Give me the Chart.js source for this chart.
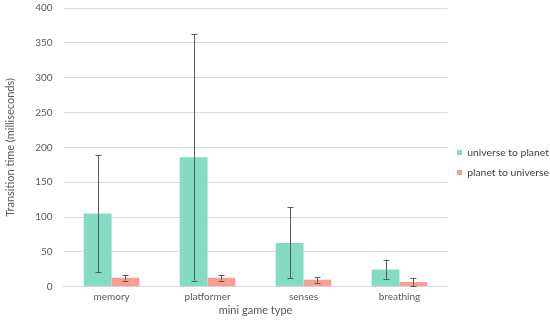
<!DOCTYPE html>
<html>
<head>
<meta charset="utf-8">
<script src="https://cdn.jsdelivr.net/npm/chart.js@4/dist/chart.umd.min.js"></script>
<style>
html,body{margin:0;padding:0;background:#fff;}
#wrap{width:550px;height:323px;position:relative;}
</style>
</head>
<body>
<div id="wrap"><canvas id="c" width="550" height="323"></canvas></div>
<script>
const categories = ["memory", "platformer", "senses", "breathing"];
const universeToPlanet = [105, 186, 63, 25];
const universeToPlanetErr = [84, 177, 51, 14];
const planetToUniverse = [13, 13, 10, 7];
const planetToUniverseErr = [4, 4, 4, 6];
const seriesNames = ["universe to planet", "planet to universe"];
const yTicks = [0, 50, 100, 150, 200, 250, 300, 350, 400];

const errorBars = {
  id: 'errorBars',
  afterDatasetsDraw(chart) {
    const ctx = chart.ctx;
    const ys = chart.scales.y;
    chart.data.datasets.forEach((ds, di) => {
      const meta = chart.getDatasetMeta(di);
      meta.data.forEach((el, i) => {
        const v = ds.data[i], e = ds.errors[i];
        const top = ys.getPixelForValue(v + e);
        const bot = ys.getPixelForValue(Math.max(0, v - e));
        const x = Math.round(el.x) + 0.5;
        ctx.save();
        ctx.strokeStyle = '#5a5a5a';
        ctx.lineWidth = 1;
        ctx.beginPath();
        ctx.moveTo(x, top); ctx.lineTo(x, bot);
        ctx.moveTo(x - 3, Math.round(top) + 0.5); ctx.lineTo(x + 3, Math.round(top) + 0.5);
        ctx.moveTo(x - 3, Math.round(bot) + 0.5); ctx.lineTo(x + 3, Math.round(bot) + 0.5);
        ctx.stroke();
        ctx.restore();
      });
    });
  }
};

new Chart(document.getElementById('c'), {
  type: 'bar',
  data: {
    labels: categories,
    datasets: [
      { label: seriesNames[0], data: universeToPlanet, errors: universeToPlanetErr,
        backgroundColor: '#84dbc3', borderWidth: 0 },
      { label: seriesNames[1], data: planetToUniverse, errors: planetToUniverseErr,
        backgroundColor: '#f8a096', borderWidth: 0 }
    ]
  },
  options: {
    responsive: false,
    animation: false,
    devicePixelRatio: 1,
    layout: { padding: { left: 4, right: -9, top: 8, bottom: 6 } },
    datasets: { bar: { categoryPercentage: 0.58, barPercentage: 1.0 } },
    plugins: {
      legend: {
        position: 'right',
        labels: {
          boxWidth: 5, boxHeight: 5, padding: 9.5,
          color: '#404040',
          font: { family: 'Lato', size: 10.4 }
        }
      },
      tooltip: { enabled: false }
    },
    scales: {
      x: {
        grid: { display: false, drawTicks: false },
        border: { color: '#d9d9d9' },
        ticks: { color: '#595959', font: { family: 'Lato', size: 10 }, padding: 4 },
        title: { display: true, text: 'mini game type', color: '#595959',
                 font: { family: 'Lato', size: 11 }, padding: { top: -3, bottom: 0 } }
      },
      y: {
        min: 0, max: 400,
        afterBuildTicks(scale) { scale.ticks = yTicks.map(v => ({ value: v })); },
        afterFit(scale) { scale.paddingTop = 0; },
        grid: { color: '#d9d9d9', drawTicks: false },
        border: { display: false },
        ticks: { color: '#595959', font: { family: 'Lato', size: 10 }, padding: 11 },
        title: { display: true, text: 'Transition time (milliseconds)', color: '#595959',
                 font: { family: 'Lato', size: 11 }, padding: { top: 0, bottom: 7 } }
      }
    }
  },
  plugins: [errorBars]
});
</script>
</body>
</html>
